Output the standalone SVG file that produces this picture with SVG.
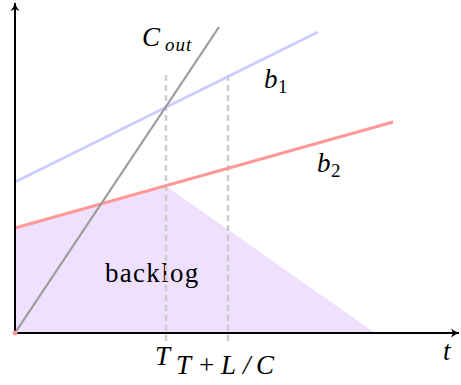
<svg xmlns="http://www.w3.org/2000/svg" width="461" height="385" viewBox="0 0 461 385">
<style>
.m{font-family:"Liberation Serif","DejaVu Serif",serif;font-style:italic;fill:#000;font-size:27px}
.n{font-family:"Liberation Serif","DejaVu Serif",serif;fill:#000;font-size:27px}
.s{font-family:"Liberation Serif","DejaVu Serif",serif;fill:#000;font-size:19px}
</style>
<defs>
<marker id="ah" markerWidth="10" markerHeight="10" refX="8" refY="5" orient="auto" markerUnits="userSpaceOnUse">
<path d="M0,0.5 Q4,4 8.5,5 Q4,6 0,9.5 L2,5 Z" fill="#000"/>
</marker>
</defs>
<rect width="461" height="385" fill="#fff"/>
<g id="backlog">
<polygon points="15,333 15,228 166,186 375,333" fill="#efe1fd"/>
<text class="n" x="105" y="282" font-size="26" letter-spacing="1.3">backlog</text>
</g>
<g id="connectors">
<line x1="166" y1="75" x2="166" y2="342" stroke="#cccccc" stroke-width="2.5" stroke-dasharray="6,4"/>
<line x1="228" y1="75" x2="228" y2="342" stroke="#cccccc" stroke-width="2.5" stroke-dasharray="6,4"/>
<line x1="15" y1="182" x2="318" y2="32" stroke="#ccccff" stroke-width="3"/>
<line x1="15" y1="228" x2="393" y2="122" stroke="#ff9999" stroke-width="3"/>
<line x1="15" y1="333" x2="219" y2="27" stroke="#999999" stroke-width="2.2"/>
<line x1="15" y1="333" x2="15" y2="3" stroke="#000" stroke-width="2" marker-end="url(#ah)"/>
<line x1="15" y1="333" x2="459" y2="333" stroke="#000" stroke-width="2" marker-end="url(#ah)"/>
<circle cx="15" cy="333" r="2.5" fill="#ff9999"/>
</g>
<g id="cout"><text class="m" x="142" y="46">C</text><text class="s" x="165" y="51" font-style="italic" letter-spacing="1">out</text></g>
<g id="b1"><text class="m" x="264" y="88">b</text><text class="s" x="278" y="93">1</text></g>
<g id="b2"><text class="m" x="317" y="172">b</text><text class="s" x="331" y="177">2</text></g>
<g id="T"><text class="m" x="155" y="365">T</text></g>
<g id="TLC">
<text class="m" x="176" y="374">T</text>
<text class="n" x="199" y="374" font-size="30">+</text>
<text class="m" x="221" y="374">L</text>
<text class="m" x="243" y="374">/</text>
<text class="m" x="256" y="374" font-size="29">C</text>
</g>
<g id="t"><text class="m" x="443" y="360">t</text></g>
</svg>
